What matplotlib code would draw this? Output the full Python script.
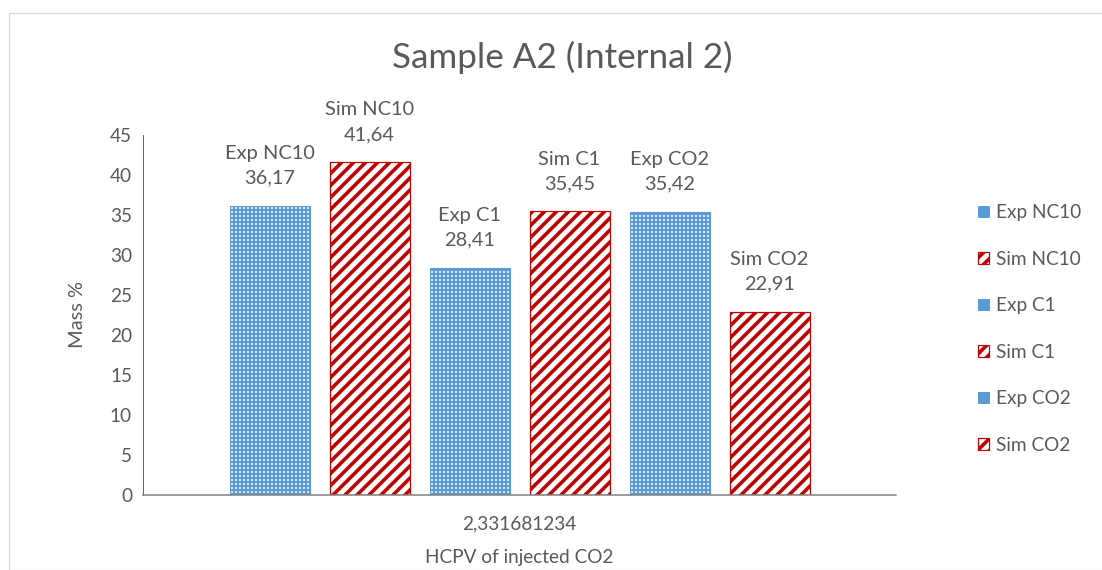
import matplotlib.pyplot as plt
from matplotlib.patches import Patch, Rectangle

# valores do grafico
series = ['Exp NC10', 'Sim NC10', 'Exp C1', 'Sim C1', 'Exp CO2', 'Sim CO2']
values = [36.17, 41.64, 28.41, 35.45, 35.42, 22.91]
value_labels = ['36,17', '41,64', '28,41', '35,45', '35,42', '22,91']
category = '2,331681234'

BLUE = '#5B9BD5'
RED = '#C00000'
GRAY = '#595959'

plt.rcParams['font.family'] = ['Lato', 'DejaVu Sans']

DPI = 72
fig = plt.figure(figsize=(1102 / DPI, 570 / DPI), dpi=DPI)
ax = fig.add_axes([143 / 1102, 75 / 570, 753 / 1102, 360 / 570])

# moldura do grafico
fig.patches.append(Rectangle((8.5 / 1102, 0), 1.2, (570 - 12.5) / 570,
                             transform=fig.transFigure, fill=False,
                             edgecolor='#D9D9D9', linewidth=1.2))


def exp_patch(**kw):
    # grade azul com quadradinhos brancos
    plt.rcParams['hatch.linewidth'] = 2.2
    return dict(facecolor='white', edgecolor=BLUE, hatch='+++', **kw)


def sim_patch(**kw):
    # listras diagonais vermelhas
    plt.rcParams['hatch.linewidth'] = 3.6
    return dict(facecolor='white', edgecolor=RED, hatch='//', **kw)


width = 0.8 / 7.53
gap = 1.0 / 7.53
positions = [(i - 2.5) * gap for i in range(len(series))]

for x, name, v, lab in zip(positions, series, values, value_labels):
    if name.startswith('Exp'):
        ax.bar(x, v, width, zorder=2, **exp_patch(linewidth=1))
    else:
        ax.bar(x, v, width, zorder=2, **sim_patch(linewidth=1.2))
    ax.annotate(name + '\n' + lab, (x, v), xytext=(0, 19),
                textcoords='offset points', ha='center', va='bottom',
                fontsize=20, color=GRAY, linespacing=1.55)

ax.set_xlim(-0.5, 0.5)
ax.set_ylim(0, 45)
ax.set_yticks(range(0, 46, 5))
ax.set_xticks([0])
ax.set_xticklabels([category])
ax.tick_params(axis='both', length=0, labelsize=19, labelcolor=GRAY)
ax.tick_params(axis='x', pad=20)
ax.tick_params(axis='y', pad=11)

for side in ['top', 'right']:
    ax.spines[side].set_visible(False)
ax.spines['left'].set_color('#404040')
ax.spines['bottom'].set_color('#7F7F7F')
ax.spines['bottom'].set_linewidth(1.5)

ax.set_xlabel('HCPV of injected CO2', fontsize=19, color=GRAY, labelpad=17)
ax.set_ylabel('Mass %', fontsize=20, color=GRAY, labelpad=24)
fig.text(562 / 1102, 1 - 57 / 570, 'Sample A2 (Internal 2)', ha='center',
         va='center', fontsize=35, color=GRAY)

# legenda
handles = []
for name in series:
    if name.startswith('Exp'):
        handles.append(Patch(**exp_patch(linewidth=1)))
    else:
        handles.append(Patch(**sim_patch(linewidth=1.2)))
leg = fig.legend(handles, series, loc='center left',
                 bbox_to_anchor=(961 / 1102, 1 - 329 / 570), frameon=False,
                 fontsize=19, labelcolor=GRAY, handlelength=0.55,
                 handleheight=0.55, handletextpad=0.4, labelspacing=1.55)

fig.savefig('out.png', dpi=DPI)
